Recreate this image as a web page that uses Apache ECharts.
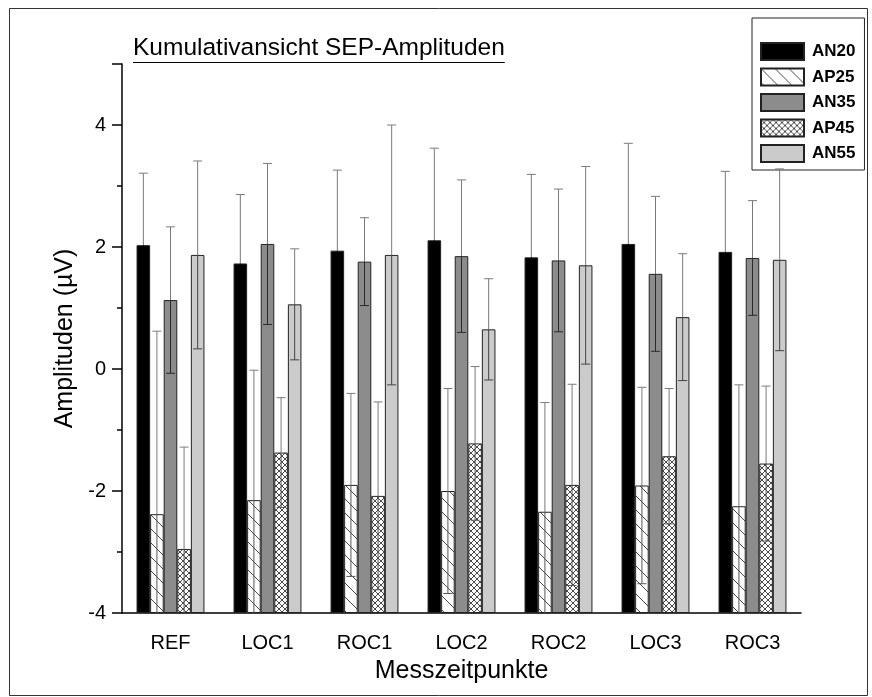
<!DOCTYPE html>
<html>
<head>
<meta charset="utf-8">
<title>Kumulativansicht SEP-Amplituden</title>
<script src="https://cdn.jsdelivr.net/npm/echarts@6/dist/echarts.min.js"></script>
<style>
    html, body { margin: 0; padding: 0; background: #fff; }
    #main { width: 872px; height: 697px; }
</style>
</head>
<body>
<div id="main"></div>
<script>
// Messzeitpunkte (x) und Komponenten (Serien)
var categories = ['REF', 'LOC1', 'ROC1', 'LOC2', 'ROC2', 'LOC3', 'ROC3'];
var seriesNames = ['AN20', 'AP25', 'AN35', 'AP45', 'AN55'];

// Mittelwerte und Fehler (µV)
var an20    = [2.03, 1.73, 1.94, 2.11, 1.83, 2.05, 1.92];
var an20Err = [1.18, 1.13, 1.32, 1.51, 1.36, 1.65, 1.32];
var ap25    = [-2.38, -2.15, -1.90, -2.00, -2.34, -1.91, -2.25];
var ap25Err = [3.00, 2.13, 1.50, 1.68, 1.79, 1.61, 1.99];
var an35    = [1.13, 2.05, 1.76, 1.85, 1.78, 1.56, 1.82];
var an35Err = [1.20, 1.32, 0.72, 1.25, 1.17, 1.27, 0.94];
var ap45    = [-2.95, -1.37, -2.08, -1.22, -1.90, -1.43, -1.55];
var ap45Err = [1.67, 0.90, 1.54, 1.26, 1.65, 1.11, 1.27];
var an55    = [1.87, 1.06, 1.87, 0.65, 1.70, 0.85, 1.79];
var an55Err = [1.54, 0.91, 2.13, 0.83, 1.62, 1.04, 1.49];

// y-Achse
var yMin = -4, yMax = 5, yStep = 2;

var values = [an20, ap25, an35, ap45, an55];
var errors = [an20Err, ap25Err, an35Err, ap45Err, an55Err];

var FONT = '"Liberation Sans", Arial, sans-serif';
var CAT_GAP = 0.3;

// Schraffuren
function makePattern(size, draw) {
    var c = document.createElement('canvas');
    c.width = size; c.height = size;
    var ctx = c.getContext('2d');
    ctx.fillStyle = '#fff';
    ctx.fillRect(0, 0, size, size);
    ctx.strokeStyle = '#4a4a4a';
    ctx.lineWidth = 1;
    draw(ctx, size);
    return { image: c, repeat: 'repeat' };
}
var hatchPattern = makePattern(14, function (ctx, s) {
    ctx.beginPath();
    ctx.moveTo(-1, -1); ctx.lineTo(s + 1, s + 1);
    ctx.stroke();
});
var crossPattern = makePattern(6, function (ctx, s) {
    ctx.beginPath();
    ctx.moveTo(-1, -1); ctx.lineTo(s + 1, s + 1);
    ctx.moveTo(s + 1, -1); ctx.lineTo(-1, s + 1);
    ctx.stroke();
});
var fills = ['#000000', hatchPattern, '#8c8c8c', crossPattern, '#cbcbcb'];
// Farbe des unteren Fehlerbalkens (im Balken)
var lowColors = ['#000000', '#555555', '#2a2a2a', '#555555', '#444444'];

function errRender(idx) {
    return function (params, api) {
        var cat = api.value(0), val = api.value(1), err = api.value(2);
        var p = api.coord([cat, val]);
        var band = api.size([1, 0])[0];
        var bw = band * (1 - CAT_GAP) / seriesNames.length;
        var x = p[0] + (idx - (seriesNames.length - 1) / 2) * bw;
        var yTop = api.coord([cat, val + err])[1];
        var low = Math.max(val - err, yMin);
        var yLow = api.coord([cat, low])[1];
        var cap = 4.5;
        var up = { stroke: '#7a7a7a', lineWidth: 1 };
        var dn = { stroke: lowColors[idx], lineWidth: 1 };
        var ch = [
            { type: 'line', shape: { x1: x, y1: p[1], x2: x, y2: yTop }, style: up },
            { type: 'line', shape: { x1: x - cap, y1: yTop, x2: x + cap, y2: yTop }, style: up },
            { type: 'line', shape: { x1: x, y1: p[1], x2: x, y2: yLow }, style: dn }
        ];
        if (val - err > yMin) {
            ch.push({ type: 'line', shape: { x1: x - cap, y1: yLow, x2: x + cap, y2: yLow }, style: dn });
        }
        return { type: 'group', children: ch };
    };
}

var series = [];
seriesNames.forEach(function (name, i) {
    series.push({
        name: name,
        type: 'bar',
        data: values[i],
        barGap: '0%',
        barCategoryGap: (CAT_GAP * 100) + '%',
        itemStyle: { color: fills[i], borderColor: '#222', borderWidth: 1 },
        z: 2
    });
});
seriesNames.forEach(function (name, i) {
    series.push({
        name: name + ' Fehler',
        type: 'custom',
        renderItem: errRender(i),
        encode: { x: 0, y: 1 },
        data: values[i].map(function (v, k) { return [k, v, errors[i][k]]; }),
        z: 5,
        silent: true
    });
});

// Unterstreichung des Titels
var titleText = 'Kumulativansicht SEP-Amplituden';
var titleFont = '24.5px ' + FONT;
var mctx = document.createElement('canvas').getContext('2d');
mctx.font = titleFont;
var titleW = mctx.measureText(titleText).width;

var chart = echarts.init(document.getElementById('main'), null, { renderer: 'canvas' });
chart.setOption({
    animation: false,
    backgroundColor: '#fff',
    textStyle: { fontFamily: FONT, color: '#000' },
    grid: { left: 122, right: 71, top: 64, bottom: 84, containLabel: false, outerBoundsMode: 'none' },
    legend: {
        data: seriesNames,
        orient: 'vertical',
        left: 752,
        top: 18,
        padding: [24, 9, 7, 8],
        itemWidth: 43,
        itemHeight: 17,
        itemGap: 6.5,
        icon: 'rect',
        borderColor: '#222',
        borderWidth: 1,
        backgroundColor: '#fff',
        selectedMode: false,
        textStyle: { fontFamily: FONT, fontSize: 17, fontWeight: 'bold', color: '#000', lineHeight: 17, padding: [0, 0, 0, 3] }
    },
    graphic: [
        { type: 'rect', shape: { x: 9.5, y: 8.5, width: 858, height: 687 }, style: { fill: 'none', stroke: '#333', lineWidth: 1 }, silent: true },
        { type: 'text', x: 133, y: 36, style: { text: titleText, font: titleFont, fill: '#000', verticalAlign: 'top' } },
        { type: 'line', shape: { x1: 133, y1: 62.5, x2: 133 + titleW, y2: 62.5 }, style: { stroke: '#000', lineWidth: 1.2 } }
    ],
    xAxis: [{
        type: 'category',
        data: categories,
        name: 'Messzeitpunkte',
        nameLocation: 'middle',
        nameGap: 46,
        nameTextStyle: { fontFamily: FONT, fontSize: 25, color: '#000' },
        axisLine: { onZero: false, lineStyle: { color: '#000', width: 1.5 } },
        axisTick: { alignWithLabel: false, length: 6, lineStyle: { color: '#000', width: 1.5 } },
        axisLabel: { fontFamily: FONT, fontSize: 20, color: '#000', margin: 20, interval: 0 },
        splitLine: { show: false }
    }, {
        type: 'category',
        data: categories,
        position: 'bottom',
        axisLine: { show: false, onZero: false },
        axisTick: { alignWithLabel: true, length: 10, lineStyle: { color: '#000', width: 1.5 } },
        axisLabel: { show: false },
        splitLine: { show: false }
    }],
    yAxis: [{
        type: 'value',
        min: yMin,
        max: yMax,
        interval: yStep,
        startValue: yMin,
        name: 'Amplituden (µV)',
        nameLocation: 'middle',
        nameGap: 43,
        nameTextStyle: { fontFamily: FONT, fontSize: 25, color: '#000' },
        axisLine: { show: true, lineStyle: { color: '#000', width: 1.5 } },
        axisTick: { show: true, length: 10, lineStyle: { color: '#000', width: 1.5 } },
        axisLabel: {
            fontFamily: FONT, fontSize: 20, color: '#000', margin: 16,
            formatter: function (v) { return v === yMax ? '' : String(v); }
        },
        splitLine: { show: false }
    }, {
        type: 'value',
        min: yMin,
        max: yMax,
        interval: 1,
        position: 'left',
        axisLine: { show: false },
        axisTick: { show: true, length: 5, lineStyle: { color: '#000', width: 1.5 } },
        axisLabel: { show: false },
        splitLine: { show: false }
    }],
    series: series
});
</script>
</body>
</html>
